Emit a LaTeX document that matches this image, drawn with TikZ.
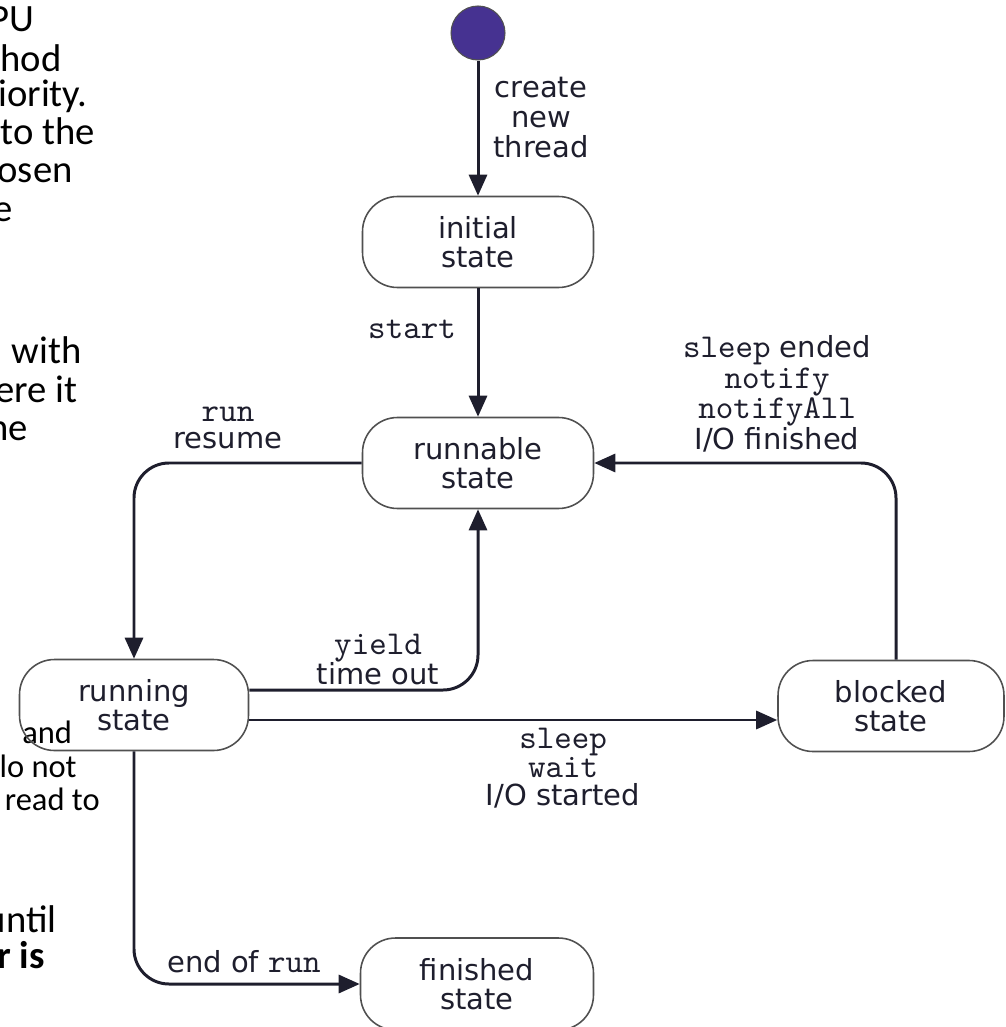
\documentclass[tikz,border=0pt]{standalone}
\usepackage{fontspec}
\usetikzlibrary{arrows.meta}
\newfontfamily\vsans{DejaVu Sans}
\newfontfamily\cour[Scale=1.15]{lmmono10-regular.otf}
\newfontfamily\cali{Carlito}
\newcommand{\cw}[1]{{\cour #1}}
\definecolor{dotpurple}{RGB}{70,50,145}
\definecolor{ink}{RGB}{30,30,45}
\definecolor{rim}{RGB}{80,80,80}
\begin{document}
\begin{tikzpicture}[x=0.02cm,y=-0.02cm,
    statebox/.style={draw=rim,line width=0.9pt,rounded corners=0.7cm,minimum width=4.62cm,minimum height=1.82cm,inner sep=0pt,align=center,text=ink,font=\vsans\fontsize{16.5}{16.5}\selectfont},
    trans/.style={draw=ink,line width=1.7pt,rounded corners=0.7cm,-{Triangle[length=0.42cm,width=0.36cm]}},
    lbl/.style={inner sep=0pt,align=center,text=ink,font=\vsans\fontsize{16.5}{17}\selectfont},
    slide/.style={inner sep=0pt,anchor=base east,font=\cali\fontsize{22}{22}\selectfont}]
    \useasboundingbox (0,0) rectangle (1005,1027);
    % cut-off slide text on the left
    \node[slide] (f1) at (35,32) {PU};
    \node[slide] (f2) at (62,72) {hod};
    \node[slide] (f3) at (88,107) {iority.};
    \node[slide] (f4) at (95,145) {to the};
    \node[slide] (f5) at (73,183) {osen};
    \node[slide] (f6) at (13,221) {e};
    \node[slide] (f7) at (82,363) {n with};
    \node[slide] (f8) at (78,402) {ere it};
    \node[slide] (f9) at (28,440) {he};
    \node[slide,anchor=base west,font=\cali\fontsize{18.5}{18.5}\selectfont] (f10) at (22,743) {and};
    \node[slide,font=\cali\fontsize{18.5}{18.5}\selectfont] (f11) at (77,777) {lo not};
    \node[slide,font=\cali\fontsize{18.5}{18.5}\selectfont] (f12) at (100,810) {read to};
    \node[slide] (f13) at (57,932) {until};
    \node[slide,font=\cali\bfseries\fontsize{22}{22}\selectfont] (f14) at (45,968) {r is};
    % states
    \node[circle,fill=dotpurple,draw=rim,line width=0.6pt,minimum size=1.08cm,inner sep=0pt] (birth) at (478,33) {};
    \node[statebox] (initial) at (478,242) {initial\\state};
    \node[statebox] (runnable) at (478,463) {runnable\\state};
    \node[statebox,minimum width=4.58cm] (running) at (134,705) {running\\state};
    \node[statebox,minimum width=4.52cm] (blocked) at (891,706) {blocked\\state};
    \node[statebox,minimum width=4.66cm,minimum height=1.84cm] (finished) at (477,984) {finished\\state};
    % transitions
    \draw[trans] (birth) -- (initial);
    \draw[trans] (initial) -- (runnable);
    \draw[trans] (runnable.west) -| (running.north);
    \coordinate (yl) at ([yshift=0.3cm]running.east);
    \draw[trans] (yl) -| (runnable.south);
    \coordinate (sl) at ([yshift=-0.3cm]running.east);
    \draw[trans] (sl) -- (sl -| blocked.west);
    \coordinate (bl) at ([xshift=0.1cm]blocked.north);
    \draw[trans] (bl) |- (runnable.east);
    \draw[trans] (running.south) |- (finished.west);
    % labels
    \node[lbl,anchor=north] (lcreate) at (541,77) {create\\new\\thread};
    \node[lbl,anchor=base,font=\vsans\cour\fontsize{16.5}{17}\selectfont] (lstart) at (412,338) {start};
    \node[lbl,anchor=north,font=\vsans\fontsize{16.5}{15.3}\selectfont] (lrun) at (228,407) {\cw{run}\\resume};
    \node[lbl,anchor=north] (lyield) at (378,634) {\cw{yield}\\time out};
    \node[lbl,anchor=north,font=\vsans\fontsize{16.5}{16.2}\selectfont] (lsleep) at (563,728) {\cw{sleep}\\\cw{wait}\\I/O started};
    \node[lbl,anchor=north,font=\vsans\fontsize{16.5}{17.5}\selectfont] (lwake) at (777,335) {\cw{sleep} ended\\\cw{notify}\\\cw{notifyAll}\\I/O finished};
    \node[lbl,anchor=base] (lend) at (244,972) {end of \cw{run}};
\end{tikzpicture}
\end{document}
